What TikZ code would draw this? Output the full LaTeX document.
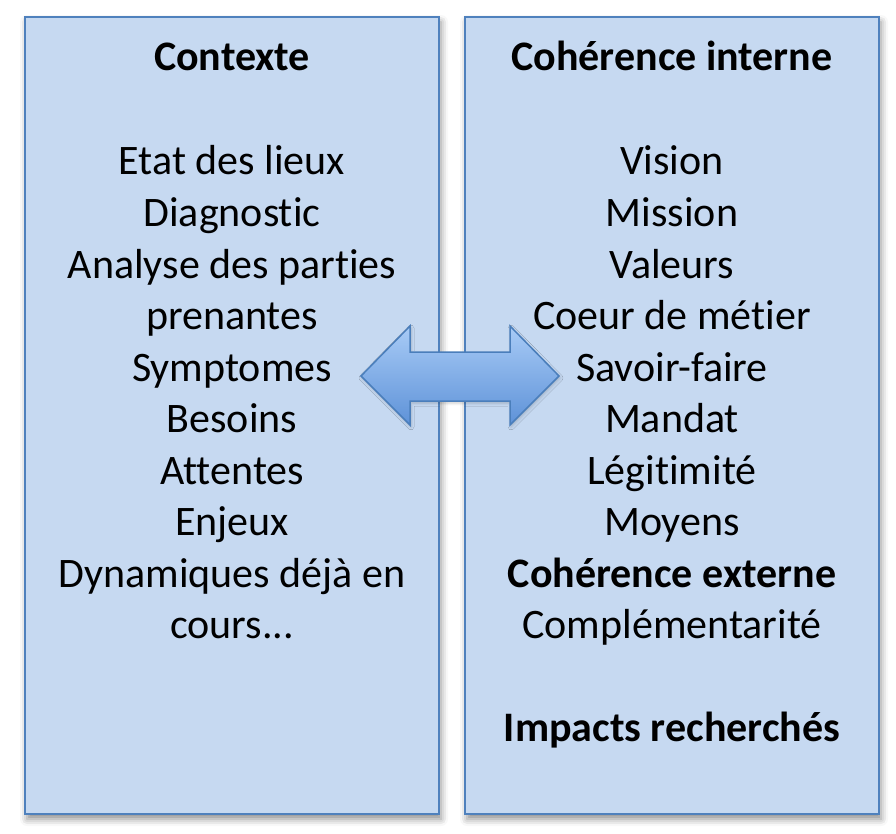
\documentclass[tikz,border=0pt]{standalone}
\usepackage{fontspec}
\setmainfont[Ligatures=NoCommon]{Carlito}
\usetikzlibrary{shadows.blur}
\definecolor{boxfill}{HTML}{C6D9F1}
\definecolor{boxline}{HTML}{4F81BD}
\definecolor{arrtop}{HTML}{A8CBF6}
\definecolor{arrbot}{HTML}{5E92D8}
\definecolor{arrline}{HTML}{4A7EBB}
\tikzset{
  panel/.style={draw=boxline, line width=2.2pt, fill=boxfill,
    blur shadow={shadow xshift=2pt, shadow yshift=-5pt, shadow blur radius=7pt, shadow opacity=45}},
  lbl/.style={font=\fontsize{42}{48}\selectfont, anchor=base, inner sep=0pt},
  ttl/.style={lbl, font=\fontsize{42}{48}\selectfont\bfseries},
}
\begin{document}
\begin{tikzpicture}[x=1pt,y=-1pt]
\useasboundingbox (0,0) rectangle (896,834);
\path[panel] (25,17) rectangle (439,814);
\path[panel] (465,17) rectangle (879,814);
% arrow
\path[draw=arrline, line width=1.5pt, top color=arrtop, bottom color=arrbot,
  blur shadow={shadow xshift=1pt, shadow yshift=-2pt, shadow blur radius=3pt, shadow opacity=20}]
  (361,376) -- (410,326) -- (410,352) -- (510,352) -- (510,326) -- (559,376)
  -- (510,425) -- (510,401) -- (410,401) -- (410,425) -- cycle;
% left column
\node[ttl] (lt) at (232,71) {Contexte};
\node[lbl] (l1) at (232,175) {Etat des lieux};
\node[lbl] (l2) at (232,226.5) {Diagnostic};
\node[lbl] (l3) at (232,278) {Analyse des parties};
\node[lbl] (l4) at (232,329.5) {prenantes};
\node[lbl] (l5) at (232,381) {Symptomes};
\node[lbl] (l6) at (232,432.5) {Besoins};
\node[lbl] (l7) at (232,484) {Attentes};
\node[lbl] (l8) at (232,535.5) {Enjeux};
\node[lbl] (l9) at (232,587) {Dynamiques déjà en};
\node[lbl] (l10) at (232,638.5) {cours...};
% right column
\node[ttl] (rt) at (672,71) {Cohérence interne};
\node[lbl] (r1) at (672,175) {Vision};
\node[lbl] (r2) at (672,226.5) {Mission};
\node[lbl] (r3) at (672,278) {Valeurs};
\node[lbl] (r4) at (672,329.5) {Coeur de métier};
\node[lbl] (r5) at (672,381) {Savoir-faire};
\node[lbl] (r6) at (672,432.5) {Mandat};
\node[lbl] (r7) at (672,484) {Légitimité};
\node[lbl] (r8) at (672,535.5) {Moyens};
\node[ttl] (r9) at (672,587) {Cohérence externe};
\node[lbl] (r10) at (672,638.5) {Complémentarité};
\node[ttl] (r11) at (672,741.5) {Impacts recherchés};
\end{tikzpicture}
\end{document}
